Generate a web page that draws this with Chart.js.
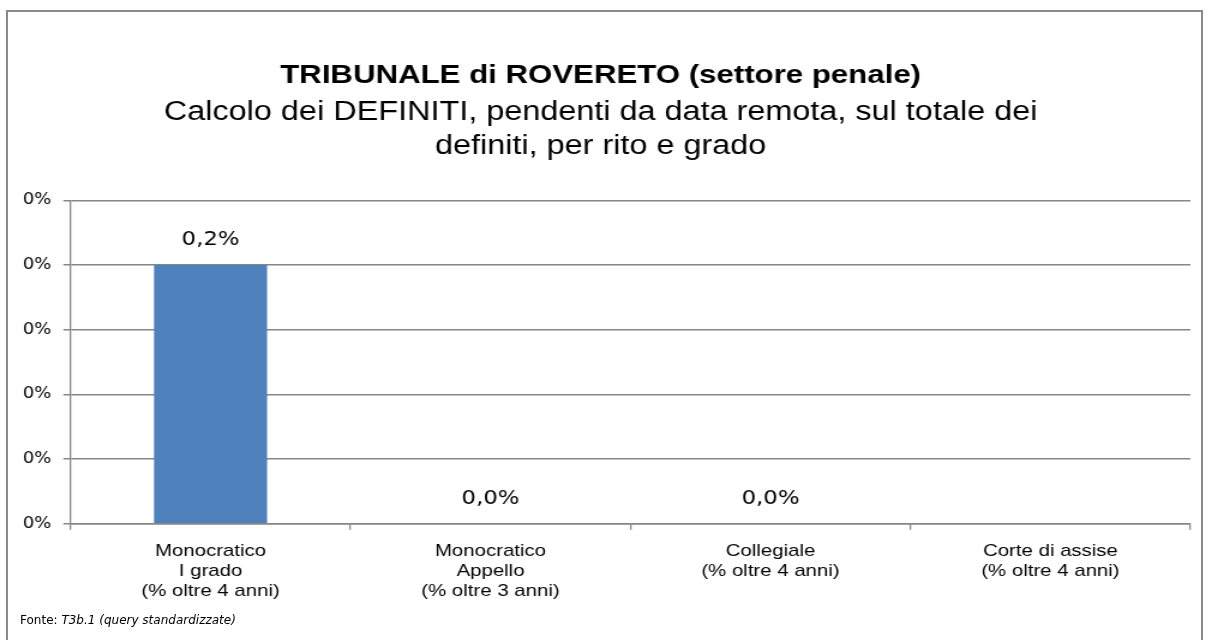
<!DOCTYPE html>
<html lang="it">
<head>
    <meta charset="UTF-8">
    <title>TRIBUNALE di ROVERETO (settore penale)</title>
    <script src="https://cdn.jsdelivr.net/npm/chart.js"></script>
    <style>
        body { margin: 0; background: #fff; }
        #wrap { position: relative; width: 1208px; height: 640px; overflow: hidden; }
        #frame { position: absolute; left: 6px; top: 10px; width: 1197px; height: 640px; border: 2px solid #8a8a8a; box-sizing: border-box; }
        /* l'originale è allargato in orizzontale */
        #barChart { position: absolute; left: 0; top: 0; transform: scaleX(1.2); transform-origin: 0 0; }
        #fonte { position: absolute; left: 20px; top: 613px; font: 12px "DejaVu Sans", Verdana, sans-serif; color: #000; }
    </style>
</head>
<body>
<div id="wrap">
    <div id="frame"></div>
    <canvas id="barChart" width="1007" height="640"></canvas>
    <div id="fonte">Fonte: <i>T3b.1 (query standardizzate)</i></div>
</div>

<script>
    // categorie (etichette su più righe)
    const categories = [
        ['Monocratico', 'I grado', '(% oltre 4 anni)'],
        ['Monocratico', 'Appello', '(% oltre 3 anni)'],
        ['Collegiale', '(% oltre 4 anni)'],
        ['Corte di assise', '(% oltre 4 anni)']
    ];
    // valori in percentuale
    const values = [0.2, 0.0, 0.0, null];
    const valueLabels = ['0,2%', '0,0%', '0,0%', null];
    const yTicks = [0, 0.05, 0.1, 0.15, 0.2, 0.25];

    // etichette sopra le barre
    const barLabels = {
        id: 'barLabels',
        afterDatasetsDraw(chart) {
            const c = chart.ctx;
            const meta = chart.getDatasetMeta(0);
            c.save();
            c.font = '19px "DejaVu Sans", Verdana, sans-serif';
            c.fillStyle = '#000';
            c.textAlign = 'center';
            c.textBaseline = 'middle';
            meta.data.forEach((bar, i) => {
                if (valueLabels[i] == null) return;
                c.fillText(valueLabels[i], bar.x, bar.y - 25);
            });
            c.restore();
        }
    };

    const ctx = document.getElementById('barChart').getContext('2d');
    const chart = new Chart(ctx, {
        type: 'bar',
        data: {
            labels: categories,
            datasets: [{
                data: values,
                backgroundColor: '#4f81bd',
                categoryPercentage: 1,
                barPercentage: 0.404
            }]
        },
        options: {
            responsive: false,
            animation: false,
            layout: { padding: { left: 9, right: 15, top: 60, bottom: 27 } },
            plugins: {
                legend: { display: false },
                tooltip: { enabled: false },
                title: {
                    display: true,
                    text: 'TRIBUNALE di ROVERETO (settore penale)',
                    color: '#000',
                    font: { family: '"Liberation Sans", Arial, sans-serif', size: 26, weight: 'bold', lineHeight: 1.2 },
                    padding: { top: 0, bottom: 4 }
                },
                subtitle: {
                    display: true,
                    text: ['Calcolo dei DEFINITI, pendenti da data remota, sul totale dei', 'definiti, per rito e grado'],
                    color: '#000',
                    font: { family: '"Liberation Sans", Arial, sans-serif', size: 27, lineHeight: 1.28 },
                    padding: { top: 0, bottom: 36 }
                }
            },
            scales: {
                x: {
                    grid: { offset: true, drawOnChartArea: false, drawTicks: true, tickLength: 6, color: '#868686', lineWidth: 1.3 },
                    border: { color: '#868686', width: 1.5 },
                    ticks: {
                        color: '#000',
                        maxRotation: 0,
                        padding: 11,
                        font: { family: '"Liberation Sans", Arial, sans-serif', size: 17, lineHeight: 1.2 }
                    }
                },
                y: {
                    min: 0,
                    max: 0.25,
                    afterBuildTicks: (axis) => { axis.ticks = yTicks.map(v => ({ value: v })); },
                    grid: { color: '#868686', lineWidth: 1.5, tickLength: 6 },
                    border: { color: '#868686', width: 1.3 },
                    ticks: {
                        color: '#000',
                        padding: 10,
                        font: { family: '"DejaVu Sans", Verdana, sans-serif', size: 15 },
                        callback: (v) => Math.round(v) + '%'
                    }
                }
            }
        },
        plugins: [barLabels]
    });
</script>
</body>
</html>
